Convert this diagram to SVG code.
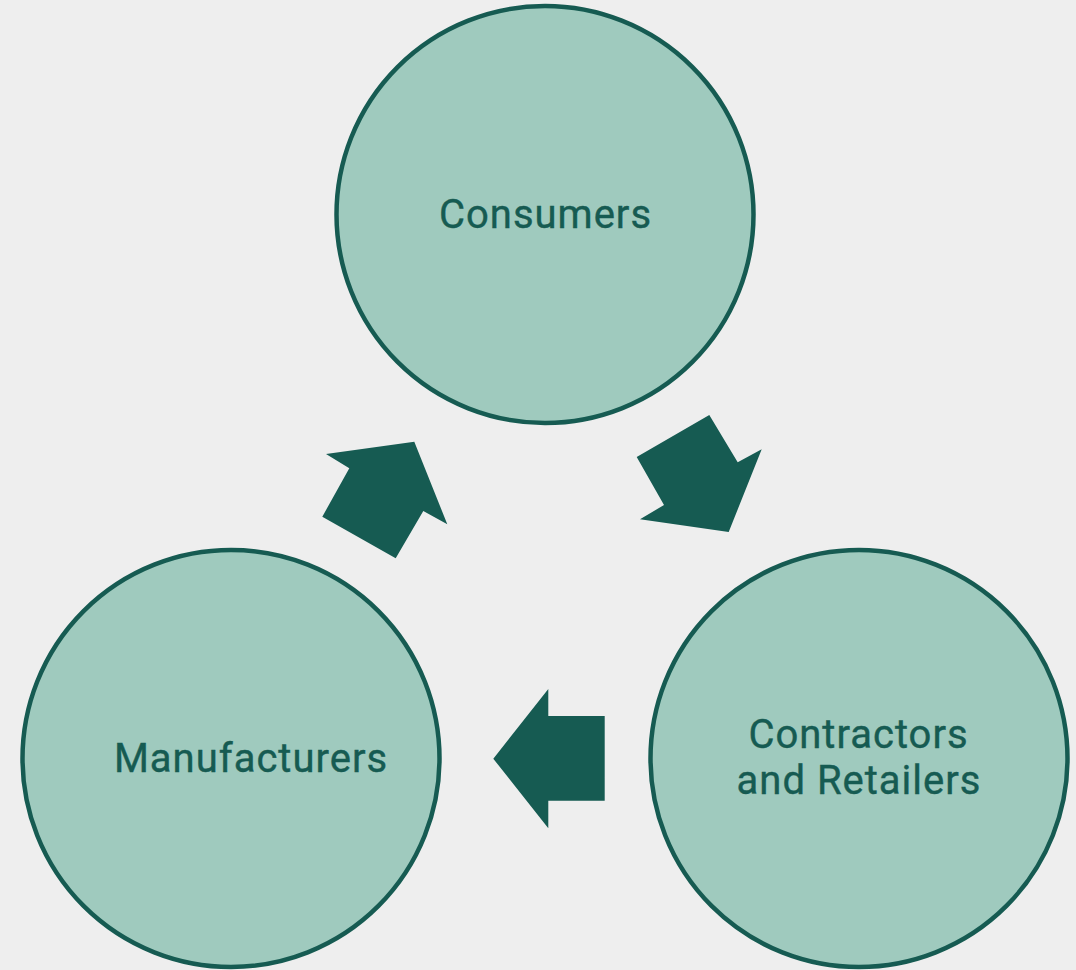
<svg xmlns="http://www.w3.org/2000/svg" width="1076" height="970" viewBox="0 0 1076 970">
  <style>
    .bg { fill: #eeeeee; }
    .node circle { fill: #9fcabe; stroke: #165b52; stroke-width: 4.5; }
    .node text { font-family: Roboto, "Liberation Sans", sans-serif; font-size: 40px; fill: #165b52; stroke: #165b52; stroke-width: 0.4; text-anchor: middle; letter-spacing: 1px; }
    .flow polygon { fill: #165b52; }
  </style>
  <rect class="bg" x="0" y="0" width="1076" height="970"/>

  <g id="consumers" class="node">
    <circle cx="545" cy="214.5" r="208.5"/>
    <text x="545.5" y="228">Consumers</text>
  </g>

  <g id="contractors" class="node">
    <circle cx="859" cy="758.5" r="208.5"/>
    <text x="858.5" y="748">Contractors</text>
    <text x="859" y="793.5">and Retailers</text>
  </g>

  <g id="manufacturers" class="node">
    <circle cx="231" cy="758.5" r="208.5"/>
    <text x="251" y="772">Manufacturers</text>
  </g>

  <g id="connectors" class="flow">
    <!-- Manufacturers to Consumers -->
    <polygon points="326,454 414.3,441.7 447.3,524.3 423.3,511 395.7,558.3 322.3,516.7 349.3,468.3"/>
    <!-- Consumers to Contractors and Retailers -->
    <polygon points="709.3,415 737.7,462.3 761.7,449.3 728.7,532 640,519.3 664,505 636.7,457"/>
    <!-- Contractors and Retailers to Manufacturers -->
    <polygon points="548.3,689 548.3,716 604.7,716 604.7,800.7 548.3,800.7 548.3,828.3 493.3,758.7"/>
  </g>
</svg>
